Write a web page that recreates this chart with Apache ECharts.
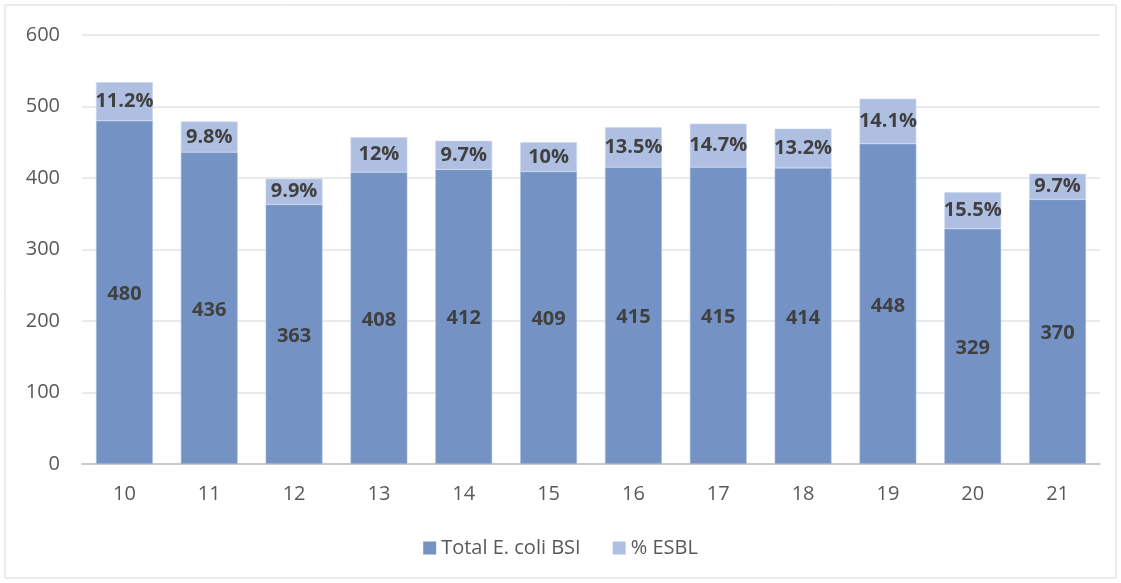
<!DOCTYPE html>
<html>
<head>
<meta charset="utf-8">
<script src="https://cdn.jsdelivr.net/npm/echarts@6/dist/echarts.min.js"></script>
<style>
  html, body { margin: 0; padding: 0; background: #fff; }
  #echarts { width: 1121px; height: 583px; }
</style>
</head>
<body>
<div id="echarts"></div>
<script>
    var years = ['10', '11', '12', '13', '14', '15', '16', '17', '18', '19', '20', '21']
    var totalBsi = [480, 436, 363, 408, 412, 409, 415, 415, 414, 448, 329, 370]
    // ESBL count (height of the light segment) and its percentage label
    var esblCount = [54, 43, 36, 49, 40, 41, 56, 61, 55, 63, 51, 36]
    var esblPct = ['11.2%', '9.8%', '9.9%', '12%', '9.7%', '10%', '13.5%', '14.7%', '13.2%', '14.1%', '15.5%', '9.7%']

    var chart = echarts.init(document.getElementById('echarts'))

    var labelStyle = {
        show: true,
        position: 'inside',
        color: '#404040',
        fontWeight: 'bold',
        fontSize: 20,
        fontFamily: 'Open Sans'
    }

    var option = {
        animation: false,
        textStyle: { fontFamily: 'Open Sans' },
        graphic: [{
            type: 'rect',
            shape: { x: 5, y: 5, width: 1111, height: 573 },
            style: { fill: 'none', stroke: '#d9d9d9', lineWidth: 1 }
        }],
        grid: { left: 82, right: 21, top: 35, bottom: 119 },
        legend: {
            bottom: 20,
            left: 'center',
            itemWidth: 13,
            itemHeight: 13,
            itemGap: 32,
            icon: 'rect',
            itemStyle: { borderWidth: 0 },
            textStyle: { color: '#595959', fontSize: 20 },
            data: ['Total E. coli BSI', '% ESBL']
        },
        xAxis: {
            type: 'category',
            data: years,
            axisLine: { lineStyle: { color: '#bfbfbf', width: 1.5 } },
            axisTick: { show: false },
            axisLabel: { color: '#595959', fontSize: 20, margin: 20 }
        },
        yAxis: {
            type: 'value',
            min: 0,
            max: 600,
            interval: 100,
            axisLine: { show: false },
            axisTick: { show: false },
            axisLabel: { color: '#595959', fontSize: 20, margin: 22 },
            splitLine: { lineStyle: { color: '#e3e3e3', width: 1.5 } }
        },
        series: [
            {
                name: 'Total E. coli BSI',
                type: 'bar',
                stack: 'all',
                barWidth: '67%',
                itemStyle: { color: '#7493c4', borderColor: '#a9bde0', borderWidth: 0.6 },
                label: Object.assign({}, labelStyle, { offset: [0, 2] }),
                data: totalBsi
            },
            {
                name: '% ESBL',
                type: 'bar',
                stack: 'all',
                barWidth: '67%',
                itemStyle: { color: '#afbfe2', borderColor: '#cdd8ee', borderWidth: 0.6 },
                label: Object.assign({}, labelStyle, {
                    formatter: function (p) { return esblPct[p.dataIndex] }
                }),
                data: esblCount
            }
        ]
    }

    chart.setOption(option)
</script>
</body>
</html>
